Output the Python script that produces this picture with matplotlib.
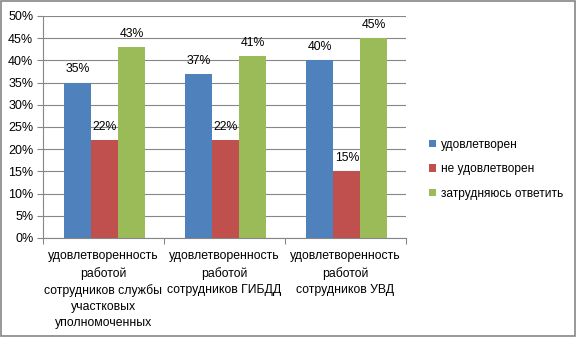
import numpy as np
import matplotlib.pyplot as plt
from matplotlib.patches import Rectangle

categories = ['удовлетворенность\nработой\nсотрудников службы\nучастковых\nуполномоченных',
              'удовлетворенность\nработой\nсотрудников ГИБДД',
              'удовлетворенность\nработой\nсотрудников УВД']
series = ['удовлетворен', 'не удовлетворен', 'затрудняюсь ответить']
satisfied = [35, 37, 40]
not_satisfied = [22, 22, 15]
hard_to_say = [43, 41, 45]
colors = ['#4F81BD', '#C0504D', '#9BBB59']

plt.rcParams['font.family'] = ['Liberation Sans', 'DejaVu Sans']

fig = plt.figure(figsize=(5.77, 3.37), dpi=100)
ax = fig.add_axes([43 / 577, 1 - 238 / 337, 363 / 577, 222 / 337])

x = np.arange(len(categories))
w = 0.223
values = [satisfied, not_satisfied, hard_to_say]
for i, (vals, name) in enumerate(zip(values, series)):
    pos = x + (i - 1) * w + 0.012
    ax.bar(pos, vals, w, color=colors[i], label=name, zorder=3)
    for p, v in zip(pos, vals):
        ax.text(p, v + 1.6, f'{v}%', ha='center', va='bottom', fontsize=8.8)

ax.set_xlim(-0.5, 2.5)
ax.set_ylim(0, 50)
ax.set_yticks(range(0, 51, 5))
ax.set_yticklabels([f'{t}%' for t in range(0, 51, 5)], fontsize=9)
ax.yaxis.grid(True, color='#868686', linewidth=0.8, zorder=0)
ax.set_xticks([-0.5, 0.5, 1.5, 2.5], minor=False)
ax.set_xticklabels([])
ax.set_xticks(x, minor=True)
ax.set_xticklabels(categories, minor=True, fontsize=8.8, linespacing=1.45)
ax.tick_params(axis='x', which='minor', length=0, pad=9)
ax.tick_params(axis='x', which='major', length=4, color='#868686')
ax.tick_params(axis='y', length=4, color='#868686', pad=3)
for s in ['top', 'right']:
    ax.spines[s].set_visible(False)
for s in ['left', 'bottom']:
    ax.spines[s].set_color('#868686')

ax.legend(loc='upper left', bbox_to_anchor=(424 / 577, 1 - 134 / 337),
          bbox_transform=fig.transFigure, frameon=False, fontsize=8.6,
          handlelength=0.6, handleheight=0.6, handletextpad=0.4,
          labelspacing=1.05, borderaxespad=0)

fig.patches.append(Rectangle((0.002, 0.003), 0.995, 0.993, transform=fig.transFigure,
                             fill=False, edgecolor='#868686', linewidth=1.2))

fig.savefig('out.png', dpi=100)
